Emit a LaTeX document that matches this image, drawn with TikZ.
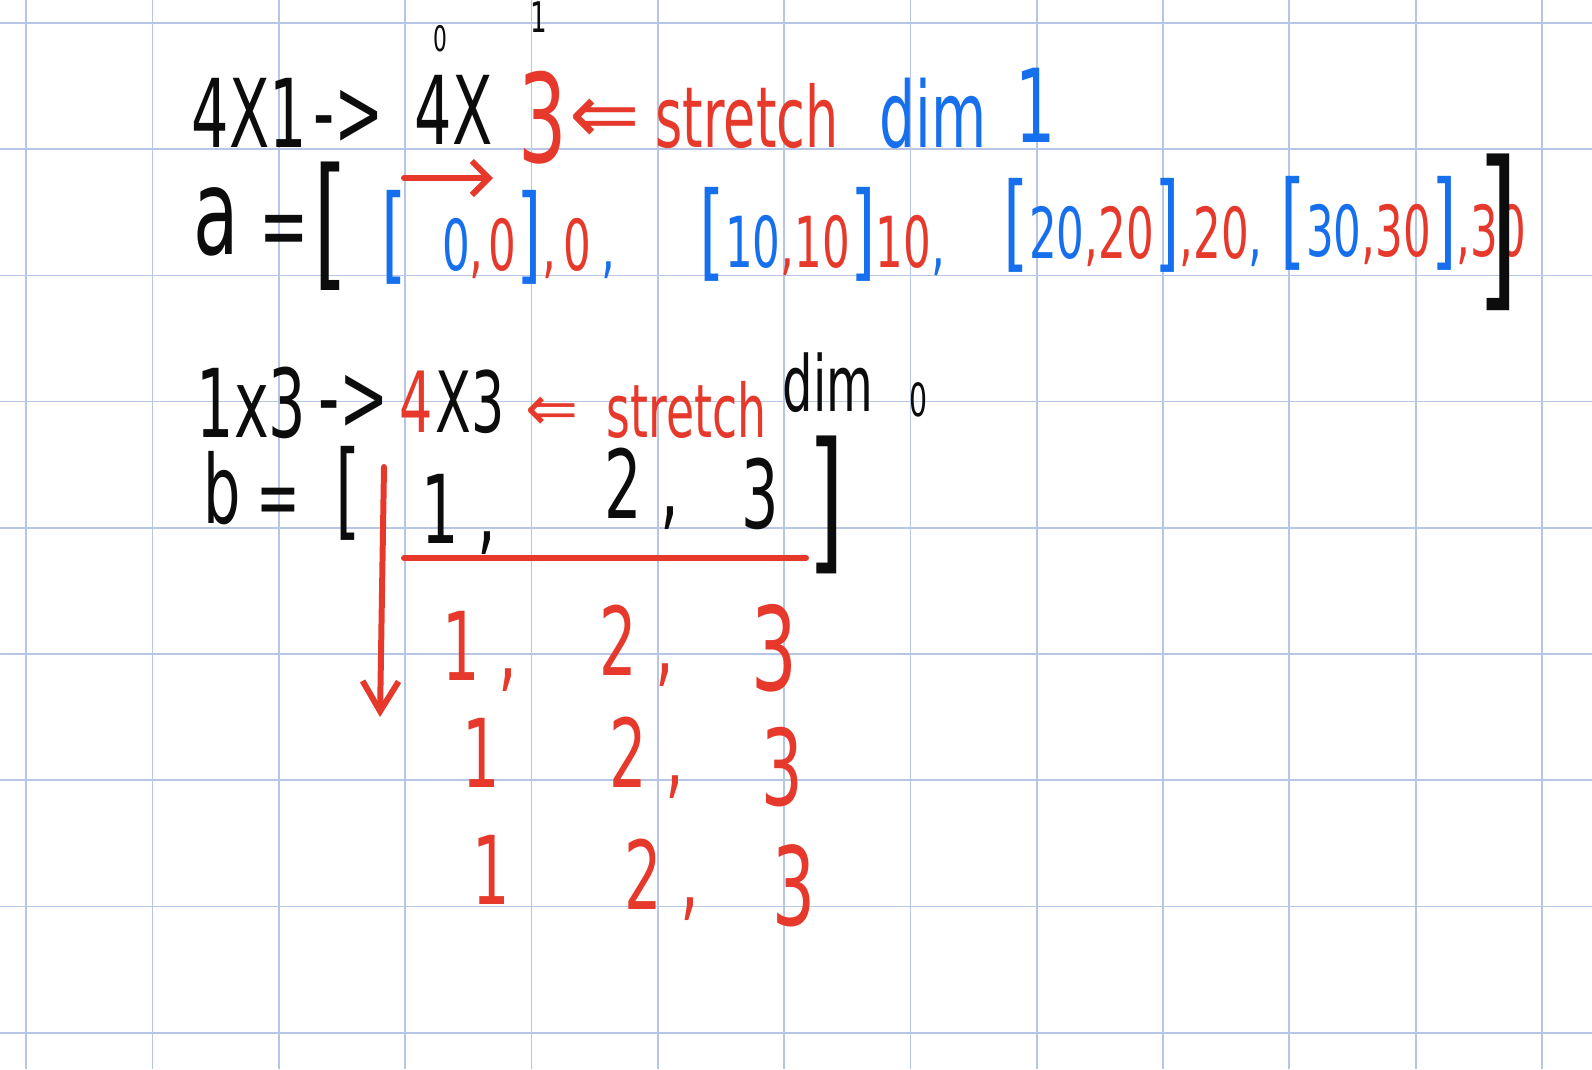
\documentclass[tikz,border=0pt]{standalone}
\usepackage{fontspec}
\newfontfamily\hand[FakeStretch=0.62]{DejaVu Sans}
\newfontfamily\handsym{DejaVu Sans}
\usetikzlibrary{arrows.meta}
\definecolor{penred}{RGB}{230,57,43}
\definecolor{penblue}{RGB}{22,112,238}
\definecolor{penblack}{RGB}{12,12,12}
\definecolor{gridblue}{RGB}{183,198,228}
\newcommand{\handsize}[1]{\hand\fontsize{#1}{#1}\selectfont}
\newcommand{\symsize}[1]{\handsym\fontsize{#1}{#1}\selectfont}
\newcommand{\bl}[1]{\textcolor{penblue}{#1}}
\newcommand{\rd}[1]{\textcolor{penred}{#1}}
\newcommand{\bk}[1]{{\fontsize{30}{30}\selectfont #1}}

\begin{document}
\begin{tikzpicture}[x=0.01cm, y=-0.01cm,
  gridline/.style={draw=gridblue, line width=0.5pt},
  txt/.style={inner sep=0pt, anchor=base west, text=penblack},
  redtxt/.style={txt, text=penred},
  bluetxt/.style={txt, text=penblue},
  stroke/.style={draw=penred, line width=1.7pt, line cap=round}
]
\fill[white] (0,0) rectangle (1592,1069);
\useasboundingbox (0,0) rectangle (1592,1069);
\foreach \gx in {0,...,12} \draw[gridline] (26.3+126.3*\gx,0) -- ++(0,1069);
\foreach \gy in {0,...,8} \draw[gridline] (0,23+126.2*\gy) -- ++(1592,0);

\node[txt, font=\handsize{27}] (shA) at (191,147) {4X1};
\node[txt, font=\handsize{27}] (arrA) at (313,145) {->};
\node[txt, font=\handsize{27}] (shB) at (414,144) {4X};
\node[txt, font=\handsize{10}] (idx0) at (433,51) {0};
\node[txt, font=\handsize{12}] (idx1) at (530,32) {1};
\node[redtxt, font=\handsize{35}] (threeA) at (518,162) {3};
\node[redtxt, font=\symsize{24}] (getsA) at (569,143) {⇐};
\node[redtxt, font=\handsize{24}] (strA) at (655,147) {stretch};
\node[bluetxt, font=\handsize{26}] (dimA) at (879,147) {dim};
\node[bluetxt, font=\handsize{29}] (oneA) at (1015,142) {1};

\node[txt, font=\handsize{34}] (va) at (193,254) {a};
\node[txt, font=\handsize{27}] (eqA) at (259,258) {=};
\node[txt, font=\handsize{41}] (openA) at (313,271) {[};
\node[txt, font=\handsize{20}] (rowA) at (381,270) {\bl{\bk{[}\hspace{3.5mm}0}\rd{,\hspace{.5mm}0}\bl{\bk{]}}\rd{,\hspace{.8mm}0}\bl{\hspace{1mm},}};
\node[txt, font=\handsize{20}] (rowB) at (699,267) {\bl{\bk{[}10}\rd{,10}\bl{\bk{]}}\rd{10}\bl{,}};
\node[txt, font=\handsize{20}] (rowC) at (1003,258) {\bl{\bk{[}20}\rd{,20}\bl{\bk{]}}\rd{,20}\bl{,}};
\node[txt, font=\handsize{20}] (rowD) at (1280,256) {\bl{\bk{[}30}\rd{,30}\bl{\bk{]}}\rd{,30}};
\node[txt, font=\handsize{50}] (closeA) at (1476,287) {]};
\coordinate (pushA) at (404,178);
\coordinate (pushB) at (493,178);
\draw[stroke, -{Straight Barb[length=0.17cm, width=0.34cm]}] (pushA) -- (pushB);

\node[txt, font=\handsize{27}] (shC) at (196,437) {1x3};
\node[txt, font=\handsize{27}] (arrB) at (318,430) {->};
\node[redtxt, font=\handsize{24}] (fourB) at (399,432) {4};
\node[txt, font=\handsize{24}] (shD) at (435,432) {X3};
\node[redtxt, font=\symsize{18}] (getsB) at (525,430) {⇐};
\node[redtxt, font=\handsize{21}] (strB) at (606,437) {stretch};
\node[txt, font=\handsize{22}] (dimB) at (782,411) {dim};
\node[txt, font=\handsize{13}] (zeroB) at (909,416) {0};

\node[txt, font=\handsize{27}] (vb) at (203,523) {b};
\node[txt, font=\handsize{24}] (eqB) at (256,526) {=};
\node[txt, font=\handsize{30}] (openB) at (335,526) {[};
\node[txt, font=\handsize{27}] (bone) at (421,543) {1 ,};
\node[txt, font=\handsize{27}] (btwo) at (604,518) {2 ,};
\node[txt, font=\handsize{27}] (bthree) at (741,528) {3};
\node[txt, font=\handsize{44}] (closeB) at (807,553) {]};
\coordinate (lineA) at (404,558);
\coordinate (lineB) at (806,558);
\draw[stroke] (lineA) -- (lineB);
\coordinate (downA) at (384,467);
\coordinate (downB) at (380,717);
\draw[stroke, -{Straight Barb[length=0.3cm, width=0.36cm]}] (downA) -- (downB);

\node[redtxt, font=\handsize{27}] (rAone) at (442,680) {1 ,};
\node[redtxt, font=\handsize{27}] (rAtwo) at (599,675) {2 ,};
\node[redtxt, font=\handsize{33}] (rAthree) at (751,690) {3};
\node[redtxt, font=\handsize{27}] (rBone) at (462,787) {1};
\node[redtxt, font=\handsize{27}] (rBtwo) at (609,787) {2 ,};
\node[redtxt, font=\handsize{30}] (rBthree) at (761,805) {3};
\node[redtxt, font=\handsize{27}] (rCone) at (472,904) {1};
\node[redtxt, font=\handsize{27}] (rCtwo) at (624,909) {2 ,};
\node[redtxt, font=\handsize{31}] (rCthree) at (772,925) {3};
\end{tikzpicture}
\end{document}
